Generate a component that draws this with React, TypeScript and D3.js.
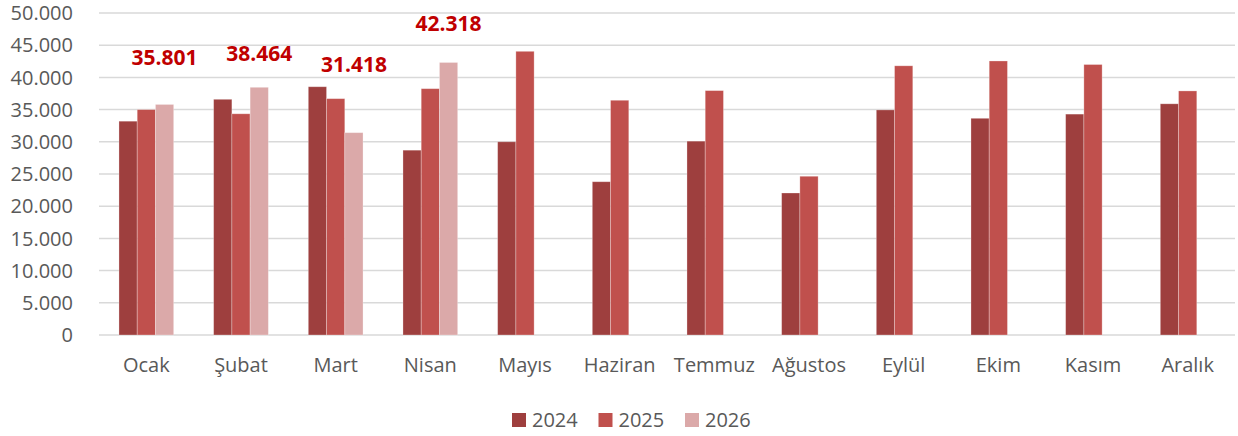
import React, { useRef, useEffect } from 'react';
import * as d3 from 'd3';

// months shown on the x axis
const months = ['Ocak', 'Şubat', 'Mart', 'Nisan', 'Mayıs', 'Haziran', 'Temmuz', 'Ağustos', 'Eylül', 'Ekim', 'Kasım', 'Aralık'];
const years = ['2024', '2025', '2026'];

// monthly values per year (2026 only has data up to Nisan)
const values2024 = [33200, 36600, 38550, 28700, 30000, 23800, 30100, 22050, 34950, 33650, 34300, 35900];
const values2025 = [35000, 34350, 36700, 38250, 44050, 36450, 37950, 24650, 41800, 42550, 42000, 37900];
const values2026 = [35801, 38464, 31418, 42318];

// where the red value labels sit, in axis units
const labelAt = [41900, 42550, 40850, 47250];

const yTicks = [0, 5000, 10000, 15000, 20000, 25000, 30000, 35000, 40000, 45000, 50000];

const colors = ['#9E3F3E', '#C0504D', '#DBA9A9'];

const App = () => {
    const svgRef = useRef<SVGSVGElement>(null);

    useEffect(() => {
        const svg = d3.select(svgRef.current);
        svg.selectAll('*').remove();

        const width = 1238;
        const height = 436;
        const margin = { top: 13, right: 3, bottom: 101, left: 99 };
        const font = '"Open Sans", sans-serif';

        const x0 = d3.scaleBand()
            .domain(months)
            .range([margin.left, width - margin.right])
            .paddingInner(0)
            .paddingOuter(0);

        const bw = x0.bandwidth();
        const x1 = d3.scaleBand()
            .domain(years)
            .range([bw * 0.211, bw * 0.789])
            .padding(0);

        const y = d3.scaleLinear()
            .domain([0, 50000])
            .range([height - margin.bottom, margin.top]);

        const fmt = (v: number) => d3.format(',')(v).replace(/,/g, '.');

        // grid lines
        svg.append('g')
            .selectAll('line')
            .data(yTicks)
            .join('line')
            .attr('x1', margin.left)
            .attr('x2', width - margin.right)
            .attr('y1', d => y(d))
            .attr('y2', d => y(d))
            .attr('stroke', '#D9D9D9')
            .attr('stroke-width', 1.5);

        // y tick labels
        svg.append('g')
            .selectAll('text')
            .data(yTicks)
            .join('text')
            .attr('x', 73)
            .attr('y', d => y(d))
            .attr('dy', '0.36em')
            .attr('text-anchor', 'end')
            .attr('font-family', font)
            .attr('font-size', 20)
            .attr('fill', '#595959')
            .text(d => fmt(d));

        const series = [values2024, values2025, values2026];
        const rows = series.flatMap((vals, si) =>
            vals.map((v, mi) => ({ year: years[si], month: months[mi], value: v, si })));

        // bars
        svg.append('g')
            .selectAll('rect')
            .data(rows)
            .join('rect')
            .attr('x', d => (x0(d.month) as number) + (x1(d.year) as number))
            .attr('y', d => y(d.value))
            .attr('width', x1.bandwidth())
            .attr('height', d => y(0) - y(d.value))
            .attr('fill', d => colors[d.si])
            .attr('stroke', 'rgba(255,255,255,0.35)')
            .attr('stroke-width', 0.8);

        // value labels for 2026
        svg.append('g')
            .selectAll('text')
            .data(values2026)
            .join('text')
            .attr('x', (d, i) => (x0(months[i]) as number) + (x1('2026') as number) + x1.bandwidth() / 2)
            .attr('y', (d, i) => y(labelAt[i]))
            .attr('text-anchor', 'middle')
            .attr('font-family', font)
            .attr('font-weight', 'bold')
            .attr('font-size', 21)
            .attr('fill', '#C00000')
            .text(d => fmt(d));

        // x axis labels
        svg.append('g')
            .selectAll('text')
            .data(months)
            .join('text')
            .attr('x', d => (x0(d) as number) + bw / 2)
            .attr('y', 372)
            .attr('text-anchor', 'middle')
            .attr('font-family', font)
            .attr('font-size', 20)
            .attr('fill', '#595959')
            .text(d => d);

        // legend
        const legend = svg.append('g')
            .selectAll('g')
            .data(years)
            .join('g')
            .attr('transform', (d, i) => `translate(${512 + i * 86.5},413)`);

        legend.append('rect')
            .attr('width', 14)
            .attr('height', 14)
            .attr('fill', (d, i) => colors[i]);

        legend.append('text')
            .attr('x', 20)
            .attr('y', 14)
            .attr('font-family', font)
            .attr('font-size', 20)
            .attr('fill', '#595959')
            .text(d => d);
    }, []);

    return (
        <svg
            ref={svgRef}
            width={1238}
            height={436}
            style={{ position: 'absolute', left: 0, top: 0, background: '#fff' }}
        />
    );
};

export default App;
